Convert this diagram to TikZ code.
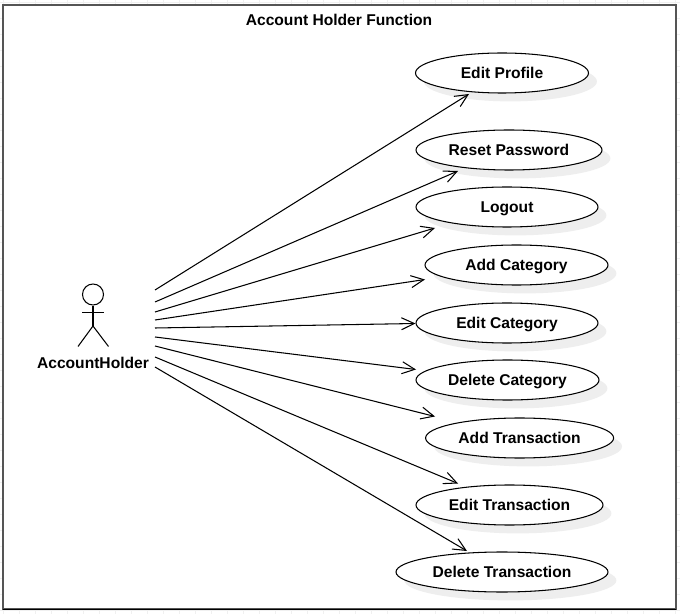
\documentclass[tikz,border=0pt]{standalone}
\usepackage{fontspec}
\setmainfont{Liberation Sans}
\usetikzlibrary{
  arrows.meta,
  shapes.geometric,
  shadows
}
\definecolor{gridline}{HTML}{F0F0F0}
\definecolor{shadowgray}{HTML}{EEEEEE}
\definecolor{framegray}{HTML}{555555}

\begin{document}
\begin{tikzpicture}[
  usecase/.style={draw, ellipse, line width=0.75pt, fill=white, minimum height=1cm, inner sep=0pt,
               text height=7.8pt, text depth=0pt, align=center, font=\fontsize{11.1}{13}\selectfont\bfseries,
               drop shadow={shadow xshift=0.21cm, shadow yshift=-0.21cm, fill=shadowgray, opacity=1}},
  label/.style={font=\fontsize{11.1}{13}\selectfont\bfseries},
  limb/.style={line width=0.75pt, black},
  assoc/.style={-{Straight Barb[length=3.2mm, width=3mm]}, line width=0.75pt, black}
]
  \useasboundingbox (0, 0) rectangle (17, 15.35);

  % Page grid behind the frame
  \draw[gridline, line width=0.5pt, step=0.4cm, xshift=0.075cm, yshift=0.1cm] (-0.075, -0.1) grid (16.925, 15.25);

  % System boundary
  \node[draw=framegray, line width=1.5pt, fill=white, minimum width=16.82cm, minimum height=15.12cm,
        inner sep=0pt, outer sep=0pt] (boundary) at (8.484, 7.675) {};
  \draw[black, line width=0.9pt] (boundary.south west) -- (boundary.south east);
  \node[label] (title) at (8.475, 14.85) {Account Holder Function};

  % Actor
  \node[draw, circle, line width=0.75pt, minimum size=0.525cm, inner sep=0pt] (head) at (2.325, 7.9875) {};
  \coordinate (hip) at (2.325, 7.2);
  \coordinate (armleft) at (2.05, 7.5325);
  \coordinate (armright) at (2.6, 7.5325);
  \coordinate (legleft) at (1.95, 6.6875);
  \coordinate (legright) at (2.7125, 6.6875);
  \draw[limb] (head) -- (hip);
  \draw[limb] (armleft) -- (armright);
  \draw[limb] (legleft) -- (hip) -- (legright);
  \node[label] (holder) at (2.325, 6.275) {AccountHolder};

  % Use cases
  \node[usecase, minimum width=4.325cm] (editprofile) at (12.55, 13.525) {Edit Profile};
  \node[usecase, minimum width=4.65cm] (resetpassword) at (12.725, 11.6) {Reset Password};
  \node[usecase, minimum width=4.55cm] (logout) at (12.675, 10.175) {Logout};
  \node[usecase, minimum width=4.575cm] (addcategory) at (12.9125, 8.725) {Add Category};
  \node[usecase, minimum width=4.55cm] (editcategory) at (12.675, 7.275) {Edit Category};
  \node[usecase, minimum width=4.575cm] (deletecategory) at (12.6875, 5.85) {Delete Category};
  \node[usecase, minimum width=4.7cm] (addtransaction) at (12.99, 4.4) {Add Transaction};
  \node[usecase, minimum width=4.675cm] (edittransaction) at (12.7375, 2.725) {Edit Transaction};
  \node[usecase, minimum width=5.3cm] (deletetransaction) at (12.55, 1.05) {Delete Transaction};

  % Free ends beside the actor
  \coordinate (from1) at (3.875, 8.1);
  \coordinate (from2) at (3.875, 7.8);
  \coordinate (from3) at (3.875, 7.55);
  \coordinate (from4) at (3.875, 7.35);
  \coordinate (from5) at (3.875, 7.15);
  \coordinate (from6) at (3.875, 6.925);
  \coordinate (from7) at (3.875, 6.7);
  \coordinate (from8) at (3.875, 6.425);
  \coordinate (from9) at (3.875, 6.175);

  % Associations
  \draw[assoc] (from1) -- ([xshift=-0.825cm, yshift=-0.525cm]editprofile.center);
  \draw[assoc] (from2) -- ([xshift=-1.275cm, yshift=-0.525cm]resetpassword.center);
  \draw[assoc] (from3) -- ([xshift=-1.8cm, yshift=-0.525cm]logout.center);
  \draw[assoc] (from4) -- ([xshift=-2.2875cm, yshift=-0.3625cm]addcategory.center);
  \draw[assoc] (from5) -- ([xshift=-2.2875cm, yshift=-0.0125cm]editcategory.center);
  \draw[assoc] (from6) -- ([xshift=-2.2875cm, yshift=0.2625cm]deletecategory.center);
  \draw[assoc] (from7) -- ([xshift=-2.115cm, yshift=0.5375cm]addtransaction.center);
  \draw[assoc] (from8) -- ([xshift=-1.2875cm, yshift=0.5375cm]edittransaction.center);
  \draw[assoc] (from9) -- ([xshift=-0.875cm, yshift=0.525cm]deletetransaction.center);

\end{tikzpicture}
\end{document}
